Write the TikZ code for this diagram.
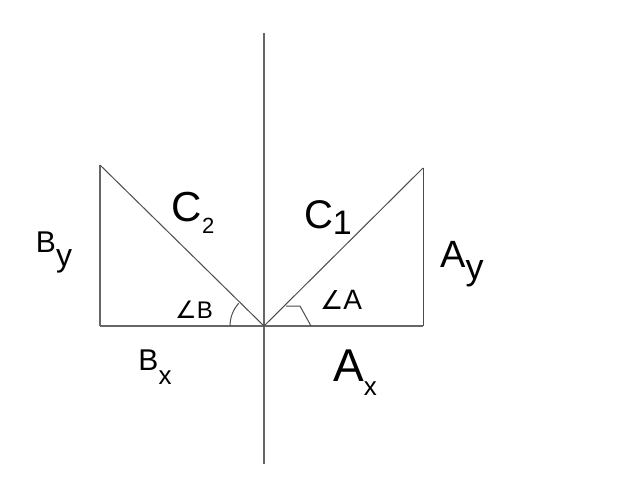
\documentclass[tikz,border=0pt]{standalone}
\usepackage{fontspec}
\setmainfont{Liberation Sans}
\newfontfamily\symfont{DejaVu Sans}
% #1 main size, #2 main letter, #3 sub size, #4 lowering, #5 sub letter
\newcommand\sublbl[5]{{\fontsize{#1}{#1}\selectfont #2}{\fontsize{#3}{#3}\selectfont\raisebox{-#4}{#5}}}
\begin{document}
\begin{tikzpicture}[x=1pt,y=-1pt,
  axis/.style={draw=black!60, line width=1.6pt},
  side/.style={draw=black!70, line width=1pt},
  lbl/.style={text=black, inner sep=0pt}]
\useasboundingbox[fill=white] (0,0) rectangle (617,480);
% points
\coordinate (O) at (264,326);
\coordinate (top) at (264,33);
\coordinate (bot) at (264,464);
\coordinate (BL) at (100,326);
\coordinate (BT) at (100,165);
\coordinate (AR) at (423,326);
\coordinate (AT) at (423,168);
% axes and triangles
\draw[axis] (top) -- (bot);
\draw[axis] (BL) -- (AR);
\draw[axis] (BL) -- (BT);
\draw[side] (BT) -- (O);
\draw[side] (O) -- (AT);
\draw[side] (AR) -- (AT);
% angle marks
\draw[side] (230,326) arc[start angle=180, end angle=222, radius=34];
\draw[side] (286,306) -- (300,306) -- (311,326);
% labels
\node[lbl] (c2) at (193,213) {\sublbl{42}{C}{22}{12pt}{2}};
\node[lbl] (c1) at (328,218) {\sublbl{40}{C}{34}{6pt}{1}};
\node[lbl] (by) at (54,252) {\sublbl{30}{B}{32}{14pt}{y}};
\node[lbl] (ay) at (462,264) {\sublbl{38}{A}{36}{12pt}{y}};
\node[lbl] (bx) at (155,367) {\sublbl{30}{B}{26}{14pt}{x}};
\node[lbl] (ax) at (355,373) {\sublbl{46}{A}{26}{14pt}{x}};
\node[lbl] (angb) at (194,310) {{\symfont\fontsize{24}{24}\selectfont ∠}{\fontsize{24}{24}\selectfont B}};
\node[lbl] (anga) at (341,300) {{\symfont\fontsize{26}{26}\selectfont ∠}{\fontsize{28}{28}\selectfont A}};
\end{tikzpicture}
\end{document}
